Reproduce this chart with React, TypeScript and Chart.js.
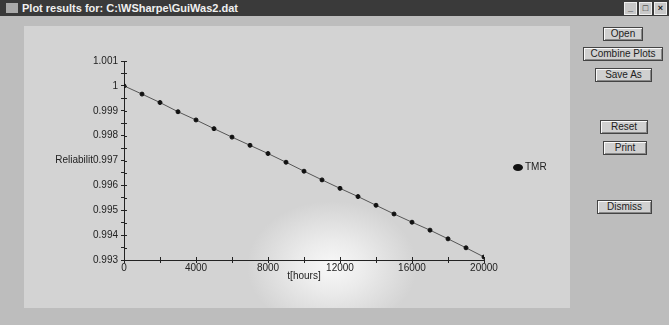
import React, { useEffect, useRef } from "react";
import { Chart, registerables } from "chart.js";

Chart.register(...registerables);

const hours = [0, 1000, 2000, 3000, 4000, 5000, 6000, 7000, 8000, 9000, 10000, 11000, 12000, 13000, 14000, 15000, 16000, 17000, 18000, 19000, 20000];
const tmr = [1.0, 0.99967, 0.99933, 0.99896, 0.99863, 0.99828, 0.99794, 0.99761, 0.99728, 0.99693, 0.99657, 0.99622, 0.99588, 0.99555, 0.9952, 0.99485, 0.99452, 0.9942, 0.99385, 0.99349, 0.99312];
const seriesName = "TMR";
const yTitle = "Reliabilit";
const xTitle = "t[hours]";
const windowTitle = "Plot results for: C:\\WSharpe\\GuiWas2.dat";
const buttons = ["Open", "Combine Plots", "Save As", "Reset", "Print", "Dismiss"];

const FONT = "'Liberation Sans', Arial, sans-serif";

const extrasPlugin = {
  id: "extras",
  afterDraw(chart: any) {
    const ys = chart.scales.y;
    const xs = chart.scales.x;
    const ca = chart.chartArea;
    const ctx = chart.ctx;
    ctx.save();
    // inward half of tick marks (ticks cross the axes)
    ctx.strokeStyle = "#222";
    ctx.lineWidth = 1;
    ctx.beginPath();
    ys.ticks.forEach((t: any) => {
      const py = Math.round(ys.getPixelForValue(t.value)) + 0.5;
      ctx.moveTo(ca.left, py);
      ctx.lineTo(ca.left + 3, py);
    });
    xs.ticks.forEach((t: any) => {
      const px = Math.round(xs.getPixelForValue(t.value)) + 0.5;
      ctx.moveTo(px, ca.bottom);
      ctx.lineTo(px, ca.bottom - 3);
    });
    ctx.stroke();
    // y-axis title, horizontal, next to the 0.997 label
    ctx.font = `10px ${FONT}`;
    ctx.fillStyle = "#222";
    ctx.textAlign = "right";
    ctx.textBaseline = "middle";
    const w = ctx.measureText("0.997").width;
    ctx.fillText(yTitle, ca.left - 3 - 3 - w, ys.getPixelForValue(0.997));
    // legend
    const ds = chart.data.datasets[0];
    const lx = ca.right + 34;
    const ly = (ca.top + ca.bottom) / 2 + 7;
    ctx.fillStyle = ds.pointBackgroundColor;
    ctx.beginPath();
    ctx.ellipse(lx, ly, 5, 3.5, 0, 0, Math.PI * 2);
    ctx.fill();
    ctx.fillStyle = "#222";
    ctx.textAlign = "left";
    ctx.fillText(ds.label, lx + 7, ly);
    ctx.restore();
  },
};

function ChartPanel() {
  const ref = useRef<HTMLCanvasElement | null>(null);
  useEffect(() => {
    const chart = new Chart(ref.current!, {
      type: "line",
      data: {
        datasets: [
          {
            label: seriesName,
            data: hours.map((h, i) => ({ x: h, y: tmr[i] })),
            borderColor: "#555",
            borderWidth: 1,
            backgroundColor: "#111",
            pointBackgroundColor: "#111",
            pointBorderColor: "#111",
            pointRadius: 2,
            pointStyle: "circle",
            tension: 0,
          },
        ],
      },
      options: {
        animation: false,
        responsive: false,
        maintainAspectRatio: false,
        layout: { padding: { top: 35, right: 86, bottom: 27, left: 0 } },
        plugins: {
          legend: { display: false },
          tooltip: { enabled: false },
        },
        scales: {
          x: {
            type: "linear",
            min: 0,
            max: 20000,
            afterFit: (s: any) => { s.height = 21; },
            grid: { drawOnChartArea: false, color: "#222", tickLength: 3 },
            border: { color: "#222", width: 1 },
            ticks: {
              stepSize: 2000,
              padding: 0,
              maxRotation: 0,
              autoSkip: false,
              color: "#222",
              font: { family: FONT, size: 10, lineHeight: 1 },
              callback: (v: any) => (Math.round(v) % 4000 === 0 ? String(Math.round(v)) : ""),
            },
            title: { display: true, text: xTitle, color: "#222", font: { family: FONT, size: 10, lineHeight: 1 }, padding: { top: 0, bottom: 0 } },
          },
          y: {
            min: 0.993,
            max: 1.001,
            afterFit: (s: any) => { s.width = 100; },
            grid: { drawOnChartArea: false, color: "#222", tickLength: 3 },
            border: { color: "#222", width: 1 },
            ticks: {
              stepSize: 0.0005,
              padding: 3,
              autoSkip: false,
              color: "#222",
              font: { family: FONT, size: 10 },
              callback: (v: any) => {
                const k = Math.round(Number(v) * 2000);
                return k % 2 === 0 ? String(parseFloat(Number(v).toFixed(3))) : "";
              },
            },
          },
        },
      },
      plugins: [extrasPlugin],
    });
    return () => chart.destroy();
  }, []);
  return <canvas ref={ref} width={546} height={282} style={{ display: "block" }} />;
}

const btnPos: Record<string, { left: number; top: number; width: number }> = {
  "Open": { left: 603, top: 27, width: 40 },
  "Combine Plots": { left: 583, top: 47, width: 80 },
  "Save As": { left: 595, top: 68, width: 57 },
  "Reset": { left: 600, top: 120, width: 48 },
  "Print": { left: 603, top: 141, width: 44 },
  "Dismiss": { left: 597, top: 200, width: 55 },
};

export default function App() {
  return (
    <div
      style={{
        position: "fixed",
        left: 0,
        top: 0,
        width: 669,
        height: 325,
        background: "#bdbdbd",
        overflow: "hidden",
        fontFamily: FONT,
      }}
    >
      <div
        style={{
          position: "absolute",
          left: 0,
          top: 0,
          width: 669,
          height: 16,
          background: "#3a3a3a",
          color: "#f0f0f0",
          fontSize: 11,
          fontWeight: "bold",
          lineHeight: "16px",
          whiteSpace: "nowrap",
        }}
      >
        <span style={{ display: "inline-block", width: 12, height: 10, background: "#aaa", margin: "0 4px 0 6px", verticalAlign: "-1px" }} />
        {windowTitle}
        <div style={{ position: "absolute", right: 2, top: 2, display: "flex", gap: 2 }}>
          {["_", "□", "×"].map((c) => (
            <div key={c} style={{ width: 11, height: 11, background: "#c8c8c8", color: "#222", fontSize: 9, lineHeight: "11px", textAlign: "center", border: "1px solid #eee" }}>{c}</div>
          ))}
        </div>
      </div>
      <div
        style={{
          position: "absolute",
          left: 24,
          top: 26,
          width: 546,
          height: 282,
          background: "radial-gradient(ellipse 85px 65px at 308px 240px, #f8f8f8 0%, #ebebeb 40%, rgba(211,211,211,0) 100%), #d3d3d3",
        }}
      >
        <ChartPanel />
      </div>
      {buttons.map((b) => {
        const p = btnPos[b];
        return (
          <div
            key={b}
            style={{
              position: "absolute",
              left: p.left,
              top: p.top,
              width: p.width,
              height: 14,
              boxSizing: "border-box",
              border: "1px solid #444",
              boxShadow: "inset 1px 1px 0 #fafafa, inset -1px -1px 0 #888",
              background: "#d0d0d0",
              color: "#222",
              fontSize: 10,
              lineHeight: "12px",
              textAlign: "center",
              whiteSpace: "nowrap",
            }}
          >
            {b}
          </div>
        );
      })}
    </div>
  );
}
